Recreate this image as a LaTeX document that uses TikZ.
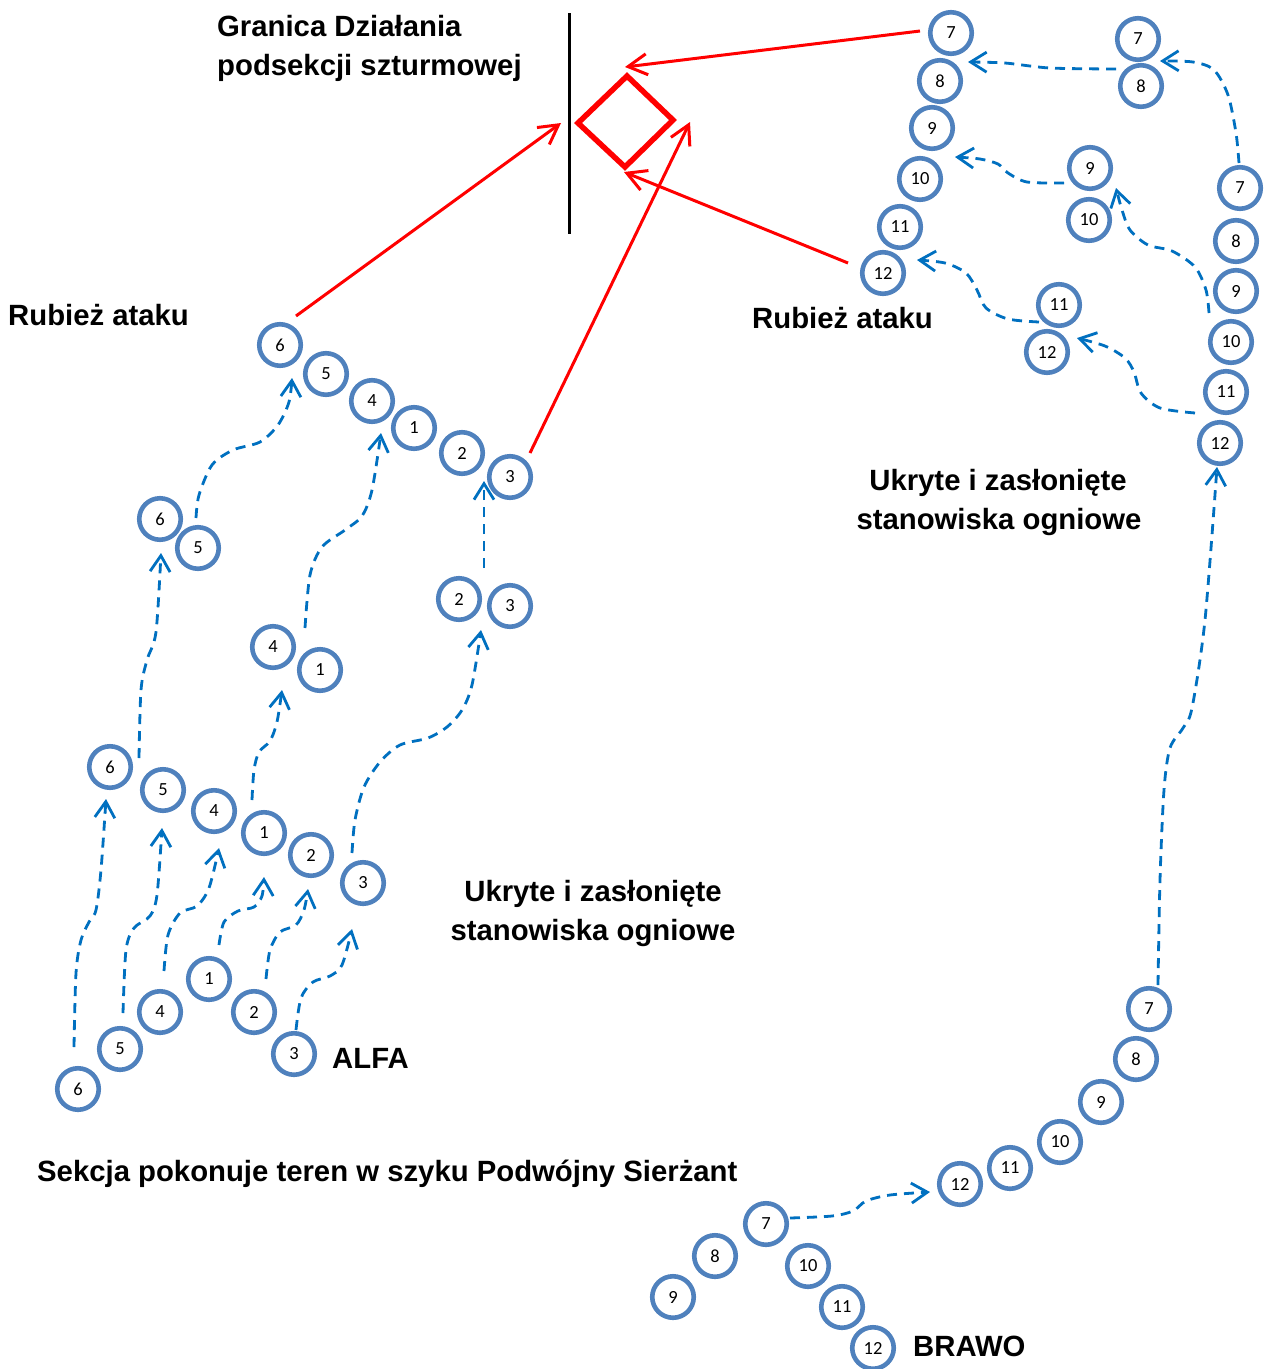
\documentclass[tikz,border=0pt]{standalone}
\usepackage{fontspec}
\setmainfont{Liberation Sans}
\newfontfamily\numfont{Carlito}
\usetikzlibrary{arrows.meta}
\definecolor{ringblue}{HTML}{4F81BD}
\definecolor{pathblue}{HTML}{0070C0}
\definecolor{tred}{HTML}{FF0000}
\tikzset{
  sold/.style={circle, draw=ringblue, line width=4.6pt, fill=white, minimum size=41.5pt, inner sep=0pt, font=\numfont\fontsize{18.5}{18.5}\selectfont},
  lbl/.style={font=\bfseries\fontsize{29.3}{35}\selectfont, inner sep=0pt, anchor=base west},
  lblc/.style={font=\bfseries\fontsize{29.3}{35}\selectfont, inner sep=0pt, anchor=base},
  move/.style={draw=pathblue, line width=2.8pt, dash pattern=on 10pt off 7pt, -{Straight Barb[length=16pt,width=20pt]}},
  attack/.style={draw=tred, line width=3pt, -{Straight Barb[length=19pt,width=21pt]}},
}
\begin{document}
\begin{tikzpicture}[x=1pt,y=-1pt]
\useasboundingbox (0,0) rectangle (1264,1369);
\fill[white] (0,0) rectangle (1264,1369);

% boundary line and objective
\draw[line width=3pt] (569,13) coordinate (bl1) -- (569,234) coordinate (bl2);
\draw[tred, line width=5.5pt, line join=miter] (627,76) coordinate (dT) -- (673,120) coordinate (dR) -- (625,167) coordinate (dB) -- (578,123) coordinate (dL) -- cycle;

% endpoints of red arrows
\coordinate (r1s) at (296,316); \coordinate (r1t) at (561,123);
\coordinate (r2s) at (530,453); \coordinate (r2t) at (690,122);
\coordinate (r3s) at (920,31);  \coordinate (r3t) at (625,67);
\coordinate (r4s) at (848,263); \coordinate (r4t) at (624,172);
\draw[attack] (r1s) -- (r1t);
\draw[attack] (r2s) -- (r2t);
\draw[attack] (r3s) -- (r3t);
\draw[attack] (r4s) -- (r4t);

% blue movement paths
\coordinate (As) at (74,1047);  \coordinate (At) at (106,799);
\coordinate (Bs) at (123,1013); \coordinate (Bt) at (162,828);
\coordinate (Cs) at (164,971);  \coordinate (Ct) at (219,848);
\coordinate (Ds) at (219,945);  \coordinate (Dt) at (264,877);
\coordinate (Es) at (266,979);  \coordinate (Et) at (308,889);
\coordinate (Fs) at (296,1030); \coordinate (Ft) at (352,929);
\coordinate (Gs) at (352,853);  \coordinate (Gt) at (481,630);
\coordinate (Hs) at (252,800);  \coordinate (Ht) at (282,690);
\coordinate (Is) at (139,758);  \coordinate (It) at (161,553);
\coordinate (Js) at (196,518);  \coordinate (Jt) at (292,378);
\coordinate (Ks) at (305,628);  \coordinate (Kt) at (381,433);
\coordinate (Ls) at (484,568);  \coordinate (Lt) at (484,481);
\coordinate (Ms) at (1116,69);  \coordinate (Mt) at (968,62);
\coordinate (Ns) at (1239,163); \coordinate (Nt) at (1160,61);
\coordinate (Os) at (1064,183); \coordinate (Ot) at (955,157);
\coordinate (Ps) at (1209,313); \coordinate (Pt) at (1116,188);
\coordinate (Qs) at (1039,322); \coordinate (Qt) at (917,260);
\coordinate (Rs) at (1195,413); \coordinate (Rt) at (1077,338);
\coordinate (Ss) at (1158,985); \coordinate (St) at (1217,467);
\coordinate (Ts) at (790,1218); \coordinate (Tt) at (930,1192);

\draw[move] plot[smooth, tension=0.5] coordinates {(As) (76,973) (81,940) (89,922) (96,910) (101,870) (At)};
\draw[move] plot[smooth, tension=0.5] coordinates {(Bs) (126,950) (134,928) (150,916) (157,895) (Bt)};
\draw[move] plot[smooth, tension=0.5] coordinates {(Cs) (168,935) (180,913) (197,906) (209,888) (Ct)};
\draw[move] plot[smooth, tension=0.5] coordinates {(Ds) (224,922) (238,911) (254,907) (262,896) (Dt)};
\draw[move] plot[smooth, tension=0.5] coordinates {(Es) (270,950) (280,932) (296,925) (304,910) (Et)};
\draw[move] plot[smooth, tension=0.5] coordinates {(Fs) (301,998) (313,982) (330,976) (342,965) (Ft)};
\draw[move] plot[smooth, tension=0.5] coordinates {(Gs) (355,820) (364,787) (380,762) (400,745) (428,738) (447,727) (462,710) (472,685) (Gt)};
\draw[move] plot[smooth, tension=0.5] coordinates {(Hs) (254,770) (259,752) (270,741) (277,722) (Ht)};
\draw[move] plot[smooth, tension=0.5] coordinates {(Is) (141,690) (147,660) (156,632) (It)};
\draw[move] plot[smooth, tension=0.5] coordinates {(Js) (199,495) (212,465) (233,450) (260,442) (278,425) (289,402) (Jt)};
\draw[move] plot[smooth, tension=0.5] coordinates {(Ks) (310,575) (322,547) (345,530) (362,516) (372,490) (Kt)};
\draw[move] (Ls) -- (Lt);
\draw[move] plot[smooth, tension=0.5] coordinates {(Ms) (1050,68) (1005,63) (Mt)};
\draw[move] plot[smooth, tension=0.5] coordinates {(Ns) (1236,133) (1228,95) (1214,70) (1193,62) (Nt)};
\draw[move] plot[smooth, tension=0.5] coordinates {(Os) (1027,182) (1008,173) (998,164) (980,159) (Ot)};
\draw[move] plot[smooth, tension=0.5] coordinates {(Ps) (1206,290) (1195,267) (1172,251) (1148,245) (1130,230) (1122,210) (Pt)};
\draw[move] plot[smooth, tension=0.5] coordinates {(Qs) (1008,319) (986,308) (977,290) (966,273) (945,263) (Qt)};
\draw[move] plot[smooth, tension=0.5] coordinates {(Rs) (1160,408) (1141,393) (1134,372) (1125,358) (1105,346) (Rt)};
\draw[move] plot[smooth, tension=0.5] coordinates {(Ss) (1160,880) (1164,790) (1170,748) (1183,728) (1192,708) (1205,620) (St)};
\draw[move] plot[smooth, tension=0.5] coordinates {(Ts) (832,1216) (853,1211) (866,1201) (890,1195) (Tt)};

% ALFA soldiers
\node[sold] (a6) at (78,1089) {6};
\node[sold] (a5) at (120,1049) {5};
\node[sold] (a4) at (160,1012) {4};
\node[sold] (a1) at (209,979) {1};
\node[sold] (a2) at (254,1012) {2};
\node[sold] (a3) at (294,1054) {3};
\node[sold] (b6) at (110,767) {6};
\node[sold] (b5) at (163,790) {5};
\node[sold] (b4) at (214,811) {4};
\node[sold] (b1) at (264,833) {1};
\node[sold] (b2) at (311,855) {2};
\node[sold] (b3) at (363,883) {3};
\node[sold] (c6) at (160,519) {6};
\node[sold] (c5) at (198,548) {5};
\node[sold] (c4) at (273,647) {4};
\node[sold] (c1) at (320,670) {1};
\node[sold] (c2) at (459,599) {2};
\node[sold] (c3) at (510,606) {3};
\node[sold] (d6) at (280,345) {6};
\node[sold] (d5) at (326,374) {5};
\node[sold] (d4) at (372,401) {4};
\node[sold] (d1) at (414,428) {1};
\node[sold] (d2) at (462,453) {2};
\node[sold] (d3) at (510,477) {3};

% BRAWO soldiers
\node[sold] (e9) at (673,1297) {9};
\node[sold] (e8) at (715,1256) {8};
\node[sold] (e7) at (766,1224) {7};
\node[sold] (e10) at (808,1266) {10};
\node[sold] (e11) at (842,1307) {11};
\node[sold] (e12) at (873,1348) {12};
\node[sold] (f12) at (960,1184) {12};
\node[sold] (f11) at (1010,1168) {11};
\node[sold] (f10) at (1060,1142) {10};
\node[sold] (f9) at (1101,1102) {9};
\node[sold] (f8) at (1136,1059) {8};
\node[sold] (f7) at (1149,1009) {7};
\node[sold] (g12) at (1220,443) {12};
\node[sold] (g11) at (1226,392) {11};
\node[sold] (g10) at (1231,342) {10};
\node[sold] (g9) at (1236,291) {9};
\node[sold] (g8) at (1236,241) {8};
\node[sold] (g7) at (1240,188) {7};
\node[sold] (h11) at (1059,305) {11};
\node[sold] (h12) at (1047,352) {12};
\node[sold] (h9) at (1090,168) {9};
\node[sold] (h10) at (1089,220) {10};
\node[sold] (h7) at (1138,39) {7};
\node[sold] (h8) at (1141,86) {8};
\node[sold] (k7) at (951,33) {7};
\node[sold] (k8) at (940,81) {8};
\node[sold] (k9) at (932,128) {9};
\node[sold] (k10) at (920,179) {10};
\node[sold] (k11) at (900,227) {11};
\node[sold] (k12) at (883,273) {12};

% labels
\node[lbl] (t1) at (217,36) {Granica Działania};
\node[lbl] (t2) at (217,75) {podsekcji szturmowej};
\node[lbl] (t3) at (8,325) {Rubież ataku};
\node[lbl] (t4) at (752,328) {Rubież ataku};
\node[lblc] (t5) at (998,490) {Ukryte i zasłonięte};
\node[lblc] (t6) at (999,529) {stanowiska ogniowe};
\node[lblc] (t7) at (593,901) {Ukryte i zasłonięte};
\node[lblc] (t8) at (593,940) {stanowiska ogniowe};
\node[lbl] (t9) at (332,1068) {ALFA};
\node[lbl] (t10) at (37,1181) {Sekcja pokonuje teren w szyku Podwójny Sierżant};
\node[lbl] (t11) at (913,1356) {BRAWO};
\end{tikzpicture}
\end{document}
